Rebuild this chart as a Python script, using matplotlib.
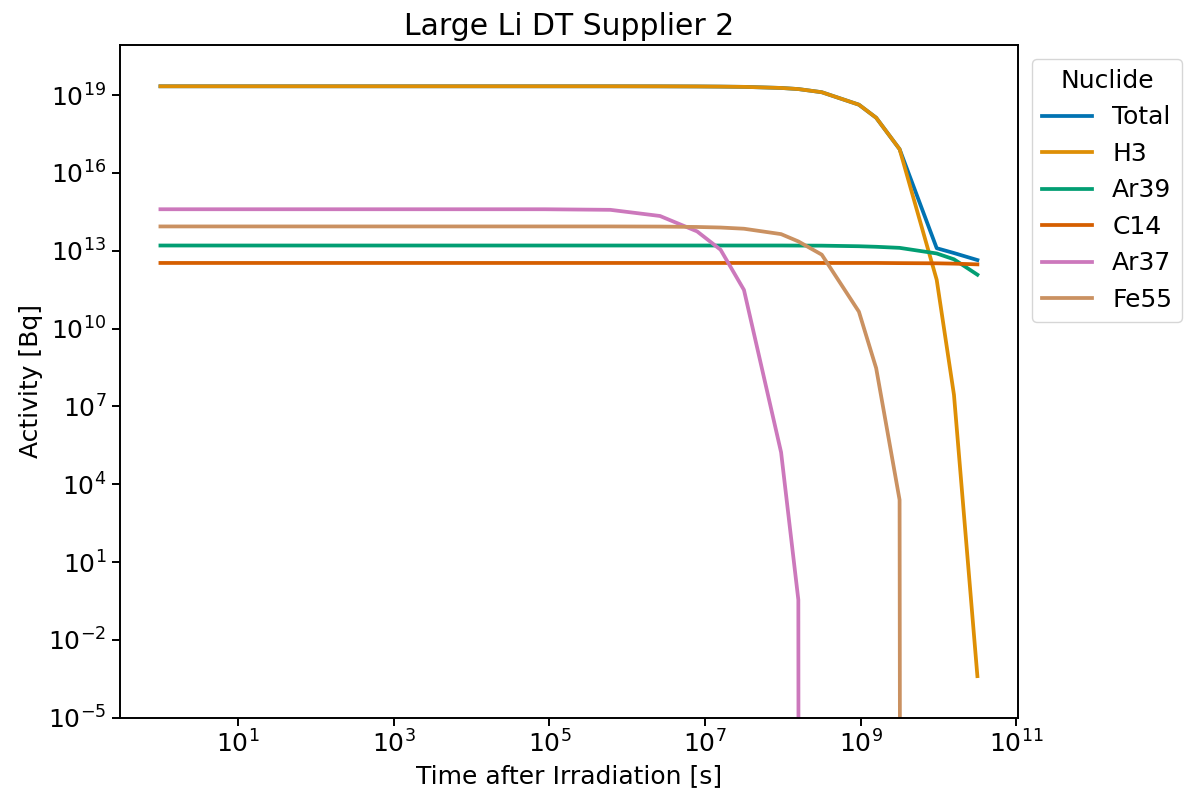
import numpy as np
import matplotlib
matplotlib.use("Agg")
import matplotlib.pyplot as plt

# Zeiten nach Bestrahlung [s]: 1 s, 1 h, 1 d, 1 w, 1 mo, 3 mo, 6 mo, 1 a, 3 a, 5 a, 10 a, 30 a, 50 a, 100 a, 300 a, 500 a, 1000 a
zeiten = [1, 3600, 86400, 604800, 2.63e6, 7.89e6, 1.58e7, 3.156e7, 9.47e7, 1.578e8,
          3.156e8, 9.47e8, 1.578e9, 3.156e9, 9.47e9, 1.578e10, 3.156e10]

nuklide = ["Total", "H3", "Ar39", "C14", "Ar37", "Fe55"]

total = [2.2e19, 2.2e19, 2.2e19, 2.2e19, 2.19e19, 2.17e19, 2.14e19, 2.09e19, 1.9e19, 1.72e19,
         1.3e19, 4.3e18, 1.35e18, 8.3e16, 1.26e13, 8.2e12, 4.4e12]
h3 = [2.2e19, 2.2e19, 2.2e19, 2.2e19, 2.19e19, 2.17e19, 2.14e19, 2.09e19, 1.9e19, 1.72e19,
      1.3e19, 4.3e18, 1.35e18, 8.3e16, 7.6e11, 2.8e7, 4e-4]
ar39 = [1.6e13, 1.6e13, 1.6e13, 1.6e13, 1.6e13, 1.6e13, 1.6e13, 1.6e13, 1.6e13, 1.59e13,
        1.58e13, 1.5e13, 1.43e13, 1.3e13, 7.9e12, 4.7e12, 1.2e12]
c14 = [3.4e12, 3.4e12, 3.4e12, 3.4e12, 3.4e12, 3.4e12, 3.4e12, 3.4e12, 3.4e12, 3.4e12,
       3.4e12, 3.4e12, 3.4e12, 3.35e12, 3.3e12, 3.2e12, 3.0e12]
ar37 = [4.0e14, 4.0e14, 4.0e14, 3.8e14, 2.2e14, 5.6e13, 1.1e13, 3.1e11, 1.7e5, 0.35,
        0, 0, 0, 0, 0, 0, 0]
fe55 = [8.7e13, 8.7e13, 8.7e13, 8.7e13, 8.6e13, 8.3e13, 7.9e13, 7.1e13, 4.4e13, 2.3e13,
        7.1e12, 4.5e10, 3.0e8, 2.5e3, 0, 0, 0]

farben = ["#0173b2", "#de8f05", "#029e73", "#d55e00", "#cc78bc", "#ca9161"]

fig = plt.figure(figsize=(11.84, 8.01), dpi=100)
ax = fig.add_axes([0.101, 0.104, 0.759, 0.840])

for name, werte, farbe in zip(nuklide, [total, h3, ar39, c14, ar37, fe55], farben):
    ax.plot(zeiten, werte, color=farbe, lw=2.7, label=name)

ax.set_xscale("log")
ax.set_yscale("log")
ax.set_ylim(1e-5, 10 ** 20.94)
ax.yaxis.set_major_locator(matplotlib.ticker.LogLocator(base=10, subs=[1.0], numticks=12))
ax.xaxis.set_minor_locator(matplotlib.ticker.NullLocator())
ax.yaxis.set_minor_locator(matplotlib.ticker.NullLocator())
ax.tick_params(labelsize=18, length=6, width=1.4)
for s in ax.spines.values():
    s.set_linewidth(1.4)

ax.set_xlabel("Time after Irradiation [s]", fontsize=18)
ax.set_ylabel("Activity [Bq]", fontsize=18)
ax.set_title("Large Li DT Supplier 2", fontsize=21.5, pad=7)

ax.legend(title="Nuclide", loc="upper left", bbox_to_anchor=(1.0, 1.0), borderaxespad=0.56,
          fontsize=18, title_fontsize=18, handlelength=2.0)

fig.savefig("out.png", dpi=100)
